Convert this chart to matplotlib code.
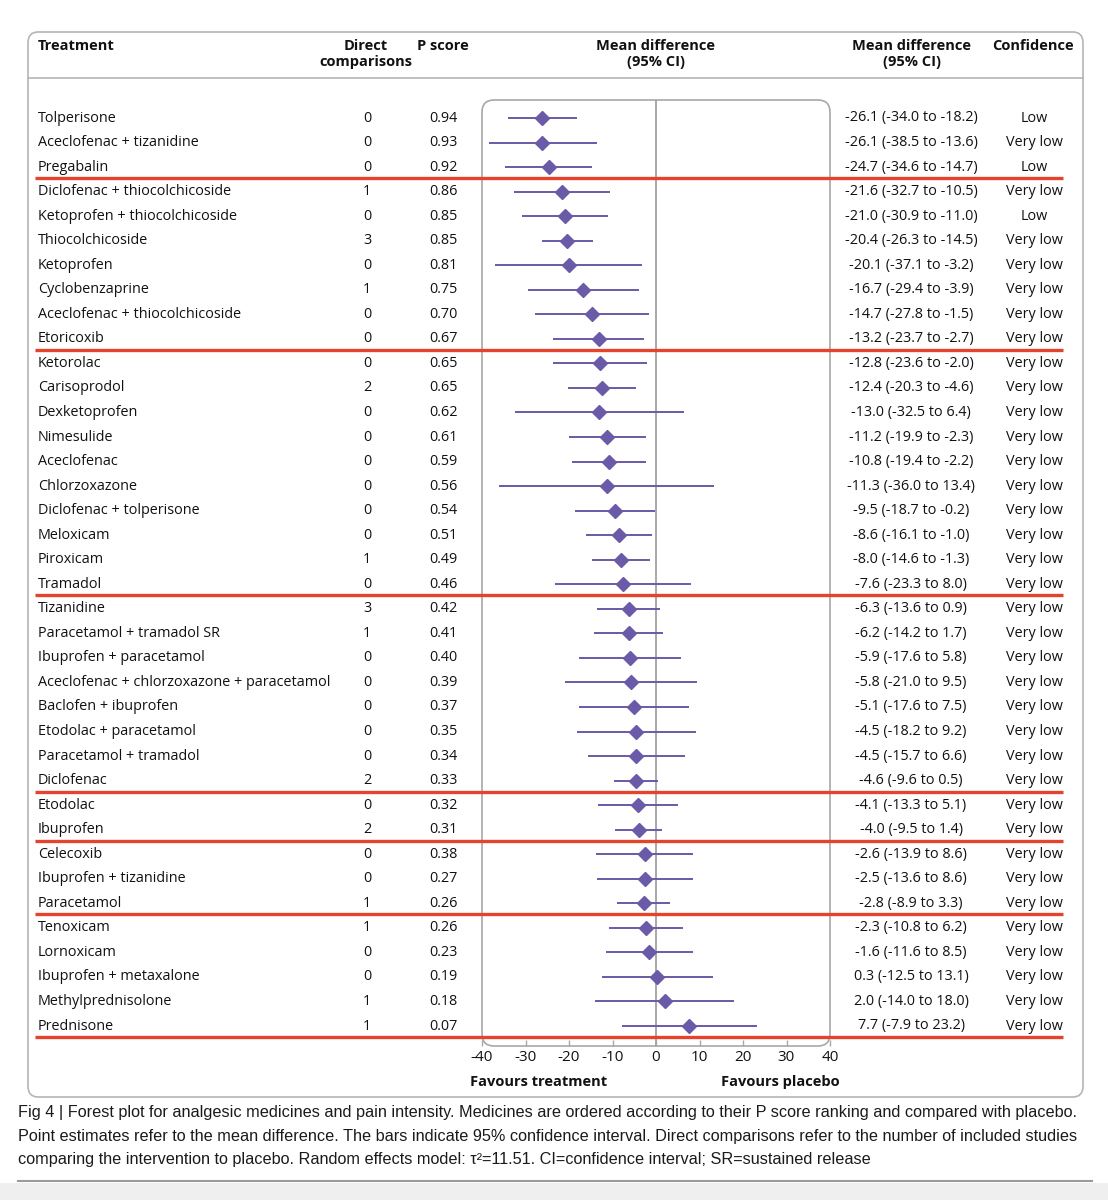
import matplotlib
matplotlib.use("Agg")
import matplotlib.pyplot as plt
from matplotlib.patches import FancyBboxPatch, Rectangle
from matplotlib.lines import Line2D
import matplotlib.transforms as mtransforms

plt.rcParams['font.family'] = ['Open Sans', 'DejaVu Sans']

treatments = [
    "Tolperisone", "Aceclofenac + tizanidine", "Pregabalin",
    "Diclofenac + thiocolchicoside", "Ketoprofen + thiocolchicoside",
    "Thiocolchicoside", "Ketoprofen", "Cyclobenzaprine",
    "Aceclofenac + thiocolchicoside", "Etoricoxib", "Ketorolac",
    "Carisoprodol", "Dexketoprofen", "Nimesulide", "Aceclofenac",
    "Chlorzoxazone", "Diclofenac + tolperisone", "Meloxicam", "Piroxicam",
    "Tramadol", "Tizanidine", "Paracetamol + tramadol SR",
    "Ibuprofen + paracetamol", "Aceclofenac + chlorzoxazone + paracetamol",
    "Baclofen + ibuprofen", "Etodolac + paracetamol",
    "Paracetamol + tramadol", "Diclofenac", "Etodolac", "Ibuprofen",
    "Celecoxib", "Ibuprofen + tizanidine", "Paracetamol", "Tenoxicam",
    "Lornoxicam", "Ibuprofen + metaxalone", "Methylprednisolone", "Prednisone",
]
direct = [0, 0, 0, 1, 0, 3, 0, 1, 0, 0, 0, 2, 0, 0, 0, 0, 0, 0, 1, 0,
          3, 1, 0, 0, 0, 0, 0, 2, 0, 2, 0, 0, 1, 1, 0, 0, 1, 1]
p_score = [0.94, 0.93, 0.92, 0.86, 0.85, 0.85, 0.81, 0.75, 0.70, 0.67,
           0.65, 0.65, 0.62, 0.61, 0.59, 0.56, 0.54, 0.51, 0.49, 0.46,
           0.42, 0.41, 0.40, 0.39, 0.37, 0.35, 0.34, 0.33, 0.32, 0.31,
           0.38, 0.27, 0.26, 0.26, 0.23, 0.19, 0.18, 0.07]
md = [-26.1, -26.1, -24.7, -21.6, -21.0, -20.4, -20.1, -16.7, -14.7, -13.2,
      -12.8, -12.4, -13.0, -11.2, -10.8, -11.3, -9.5, -8.6, -8.0, -7.6,
      -6.3, -6.2, -5.9, -5.8, -5.1, -4.5, -4.5, -4.6, -4.1, -4.0,
      -2.6, -2.5, -2.8, -2.3, -1.6, 0.3, 2.0, 7.7]
ci_low = [-34.0, -38.5, -34.6, -32.7, -30.9, -26.3, -37.1, -29.4, -27.8, -23.7,
          -23.6, -20.3, -32.5, -19.9, -19.4, -36.0, -18.7, -16.1, -14.6, -23.3,
          -13.6, -14.2, -17.6, -21.0, -17.6, -18.2, -15.7, -9.6, -13.3, -9.5,
          -13.9, -13.6, -8.9, -10.8, -11.6, -12.5, -14.0, -7.9]
ci_high = [-18.2, -13.6, -14.7, -10.5, -11.0, -14.5, -3.2, -3.9, -1.5, -2.7,
           -2.0, -4.6, 6.4, -2.3, -2.2, 13.4, -0.2, -1.0, -1.3, 8.0,
           0.9, 1.7, 5.8, 9.5, 7.5, 9.2, 6.6, 0.5, 5.1, 1.4,
           8.6, 8.6, 3.3, 6.2, 8.5, 13.1, 18.0, 23.2]
confidence = ["Low", "Very low", "Low", "Very low", "Low"] + ["Very low"] * 33
tier_breaks = [3, 10, 20, 28, 30, 33, 38]
x_ticks = [-40, -30, -20, -10, 0, 10, 20, 30, 40]

W, H = 1108, 1200
fig = plt.figure(figsize=(W / 100, H / 100), dpi=100)
fig.patch.set_facecolor("white")

def fx(px):
    return px / W

def fy(py):
    return 1 - py / H

# bottom gray background strip
fig.add_artist(Rectangle((0, 0), 1, fy(1183), transform=fig.transFigure,
                         facecolor="#efefef", edgecolor="none", zorder=-3))
fig.add_artist(Line2D([fx(18), fx(1092)], [fy(1181), fy(1181)],
                      transform=fig.transFigure, color="#9a9a9a", lw=1.5, zorder=-2))

# outer rounded box
fig.add_artist(FancyBboxPatch((fx(28), fy(1097)), fx(1083) - fx(28), fy(32) - fy(1097),
                              boxstyle="round,pad=0,rounding_size=0.009",
                              transform=fig.transFigure, facecolor="white",
                              edgecolor="#b5b5b5", lw=1.2, zorder=-2))
fig.add_artist(Line2D([fx(28), fx(1083)], [fy(78), fy(78)],
                      transform=fig.transFigure, color="#b5b5b5", lw=1.2, zorder=-1))

# forest axes
n = len(treatments)
row_px = (1026 - 118) / (n - 1)
top_px, bot_px = 100, 1046
ax = fig.add_axes([fx(482), fy(bot_px), fx(830) - fx(482), (bot_px - top_px) / H])
ax.set_xlim(-40, 40)
ax.set_ylim((n - 1) + (bot_px - 1026) / row_px, -(118 - top_px) / row_px)
ax.patch.set_alpha(0)
for s in ax.spines.values():
    s.set_visible(False)
ax.add_patch(FancyBboxPatch((0, 0), 1, 1, boxstyle="round,pad=0,rounding_size=0.035",
                            transform=ax.transAxes, facecolor="none",
                            edgecolor="#a8a8a8", lw=1.2, clip_on=False,
                            mutation_aspect=348 / 946))
ax.axvline(0, color="#9a9a9a", lw=1.2, zorder=1)

ys = list(range(n))
purple = "#6a5aa8"
ax.hlines(ys, ci_low, ci_high, color=purple, lw=1.4, zorder=2)
ax.plot(md, ys, linestyle="none", marker="D", color=purple, markersize=7, zorder=3)

ax.set_xticks(x_ticks)
ax.set_xticklabels([str(t) for t in x_ticks])
ax.set_yticks([])
ax.tick_params(axis="x", direction="in", length=4, width=1, color="#a8a8a8",
               labelsize=11, labelcolor="#111111", pad=3)

# row texts
tr = mtransforms.blended_transform_factory(fig.transFigure, ax.transData)
fs = 10.4
for i in range(n):
    ax.text(fx(38), i, treatments[i], transform=tr, ha="left", va="center", fontsize=fs, color="#111111")
    ax.text(fx(367), i, str(direct[i]), transform=tr, ha="center", va="center", fontsize=fs, color="#111111")
    ax.text(fx(443), i, f"{p_score[i]:.2f}", transform=tr, ha="center", va="center", fontsize=fs, color="#111111")
    ax.text(fx(911), i, f"{md[i]:.1f} ({ci_low[i]:.1f} to {ci_high[i]:.1f})", transform=tr,
            ha="center", va="center", fontsize=fs, color="#111111")
    ax.text(fx(1034), i, confidence[i], transform=tr, ha="center", va="center", fontsize=fs, color="#111111")

# red tier lines
for b in tier_breaks:
    yb = b - 0.55
    ax.add_line(Line2D([fx(35), fx(1063)], [yb, yb], transform=tr, color="#e5432b",
                       lw=2.4, clip_on=False, zorder=5, solid_capstyle="butt"))

# headers
hk = dict(fontsize=10.5, fontweight="bold", color="#111111", transform=fig.transFigure, va="top")
fig.text(fx(38), fy(39), "Treatment", ha="left", **hk)
fig.text(fx(366), fy(39), "Direct\ncomparisons", ha="center", linespacing=1.2, **hk)
fig.text(fx(443), fy(39), "P score", ha="center", **hk)
fig.text(fx(656), fy(39), "Mean difference\n(95% CI)", ha="center", linespacing=1.2, **hk)
fig.text(fx(912), fy(39), "Mean difference\n(95% CI)", ha="center", linespacing=1.2, **hk)
fig.text(fx(1033), fy(39), "Confidence", ha="center", **hk)

fig.text(fx(539), fy(1082), "Favours treatment", ha="center", va="center",
         fontsize=10.5, fontweight="bold", color="#111111")
fig.text(fx(780), fy(1082), "Favours placebo", ha="center", va="center",
         fontsize=10.5, fontweight="bold", color="#111111")

caption = ("Fig 4 | Forest plot for analgesic medicines and pain intensity. Medicines are ordered according to their P score ranking and compared with placebo.\n"
           "Point estimates refer to the mean difference. The bars indicate 95% confidence interval. Direct comparisons refer to the number of included studies\n"
           "comparing the intervention to placebo. Random effects model: \u03c4\u00b2=11.51. CI=confidence interval; SR=sustained release")
fig.text(fx(18), fy(1105), caption, ha="left", va="top", fontsize=11.7,
         family=["Liberation Sans", "DejaVu Sans"], color="#1a1a1a",
         linespacing=1.72)

fig.savefig("out.png", dpi=100)
